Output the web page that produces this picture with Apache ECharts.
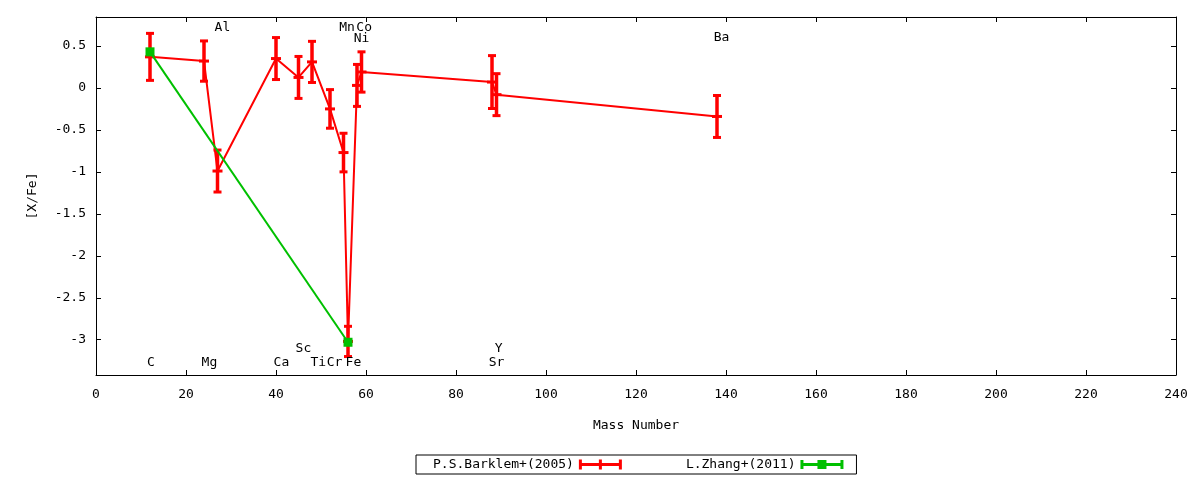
<!DOCTYPE html>
<html>
<head>
<meta charset="utf-8">
<title>[X/Fe] vs Mass Number</title>
<script src="https://cdn.jsdelivr.net/npm/echarts@6/dist/echarts.min.js"></script>
<style>
  html, body { margin: 0; padding: 0; background: #fff; }
  #chart { width: 1200px; height: 480px; }
</style>
</head>
<body>
<div id="chart"></div>
<script>
// --- data ---
const barklemMass  = [12, 24, 27, 40, 45, 48, 52, 55, 56, 58, 59, 88, 89, 138];
const barklemValue = [0.37, 0.32, -0.99, 0.35, 0.125, 0.31, -0.25, -0.77, -3.02, 0.03, 0.19, 0.07, -0.08, -0.34];
const barklemError = [0.28, 0.24, 0.25, 0.25, 0.25, 0.245, 0.23, 0.23, 0.18, 0.25, 0.24, 0.315, 0.25, 0.25];

const zhangMass  = [12, 56];
const zhangValue = [0.43, -3.03];

const elementNames = ['C', 'Mg', 'Al', 'Ca', 'Sc', 'Ti', 'Cr', 'Mn', 'Fe', 'Co', 'Ni', 'Sr', 'Y', 'Ba'];
const elementLabelX = [12.2, 25.2, 28.1, 41.2, 46.1, 49.4, 53.0, 55.8, 57.2, 59.6, 59, 89, 89.5, 139];
const elementLabelY = [-3.27, -3.27, 0.72, -3.27, -3.11, -3.27, -3.27, 0.72, -3.27, 0.72, 0.59, -3.27, -3.11, 0.6];

const yTicks = [-3, -2.5, -2, -1.5, -1, -0.5, 0, 0.5];

const FONT = 'DejaVu Sans Mono';
const RED = '#ff0000';
const GREEN = '#00c000';

const chart = echarts.init(document.getElementById('chart'));

const barklemLine = barklemMass.map((m, i) => [m, barklemValue[i]]);
const barklemBars = barklemMass.map((m, i) => [m, barklemValue[i], barklemError[i]]);
const zhangLine = zhangMass.map((m, i) => [m, zhangValue[i]]);
const labelData = elementNames.map((n, i) => [elementLabelX[i], elementLabelY[i], n]);

function errorBar(params, api) {
    const x = api.value(0), y = api.value(1), e = api.value(2);
    const top = api.coord([x, y + e]);
    const bot = api.coord([x, y - e]);
    const mid = api.coord([x, y]);
    const st = { stroke: RED, lineWidth: 3.5 };
    const capSt = { stroke: RED, lineWidth: 3 };
    return {
        type: 'group',
        children: [
            { type: 'line', shape: { x1: top[0], y1: top[1], x2: bot[0], y2: bot[1] }, style: st },
            { type: 'line', shape: { x1: top[0] - 4, y1: top[1], x2: top[0] + 4, y2: top[1] }, style: capSt },
            { type: 'line', shape: { x1: bot[0] - 4, y1: bot[1], x2: bot[0] + 4, y2: bot[1] }, style: capSt },
            { type: 'line', shape: { x1: mid[0] - 5, y1: mid[1], x2: mid[0] + 5, y2: mid[1] }, style: capSt }
        ]
    };
}

function textLabel(params, api) {
    const p = api.coord([api.value(0), api.value(1)]);
    return {
        type: 'text',
        x: p[0], y: p[1],
        style: {
            text: elementNames[params.dataIndex],
            align: 'center', verticalAlign: 'middle',
            fill: '#000', font: '13px "' + FONT + '"'
        }
    };
}

const redIcon = 'path://M0,0h3v10h-3Z M3,3.5h37v3h-37Z M40,0h3v10h-3Z M20,0h3v10h-3Z';
const greenIcon = 'path://M0,0.5h3v9h-3Z M3,3.5h37v3h-37Z M40,0.5h3v9h-3Z M17,0.5h9v9h-9Z';

const axisCommon = {
    axisLine: { show: true, onZero: false, lineStyle: { color: '#000', width: 1 } },
    axisTick: { show: true, inside: true, length: 5, lineStyle: { color: '#000' } },
    splitLine: { show: false }
};

const option = {
    animation: false,
    backgroundColor: '#fff',
    textStyle: { fontFamily: FONT },
    grid: { left: 96, right: 24, top: 17, bottom: 105, containLabel: false },
    legend: {
        left: 416, top: 455,
        orient: 'horizontal',
        align: 'right',
        padding: [3, 13, 3, 17],
        itemGap: 64,
        itemWidth: 43, itemHeight: 10,
        borderColor: '#000', borderWidth: 1, borderRadius: 0,
        textStyle: { fontFamily: FONT, fontSize: 13, color: '#000' },
        selectedMode: false,
        data: [
            { name: 'P.S.Barklem+(2005)', icon: redIcon, itemStyle: { color: RED } },
            { name: 'L.Zhang+(2011)', icon: greenIcon, itemStyle: { color: GREEN } }
        ]
    },
    xAxis: [
        Object.assign({
            type: 'value', min: 0, max: 240, interval: 20,
            name: 'Mass Number', nameLocation: 'middle', nameGap: 44,
            nameTextStyle: { fontFamily: FONT, fontSize: 13, color: '#000' },
            axisLabel: { color: '#000', fontFamily: FONT, fontSize: 13, margin: 13 }
        }, axisCommon),
        Object.assign({
            type: 'value', min: 0, max: 240, interval: 20, position: 'top',
            axisLabel: { show: false }
        }, axisCommon)
    ],
    yAxis: [
        Object.assign({
            type: 'value', min: -3.42, max: 0.845,
            name: '[X/Fe]', nameLocation: 'middle', nameGap: 57, nameRotate: 90,
            nameTextStyle: { fontFamily: FONT, fontSize: 13, color: '#000' },
            axisLabel: { color: '#000', fontFamily: FONT, fontSize: 13, margin: 10,
                customValues: yTicks, formatter: v => String(v) }
        }, axisCommon, {
            axisTick: { show: true, inside: true, length: 5, lineStyle: { color: '#000' }, customValues: yTicks }
        }),
        Object.assign({
            type: 'value', min: -3.42, max: 0.845, position: 'right',
            axisLabel: { show: false }
        }, axisCommon, {
            axisTick: { show: true, inside: true, length: 5, lineStyle: { color: '#000' }, customValues: yTicks }
        })
    ],
    series: [
        {
            name: 'P.S.Barklem+(2005)',
            type: 'line',
            data: barklemLine,
            showSymbol: false,
            symbol: 'none',
            lineStyle: { color: RED, width: 2 },
            itemStyle: { color: RED },
            z: 2
        },
        {
            name: 'P.S.Barklem+(2005)',
            type: 'custom',
            renderItem: errorBar,
            data: barklemBars,
            itemStyle: { color: RED },
            z: 3
        },
        {
            name: 'L.Zhang+(2011)',
            type: 'line',
            data: zhangLine,
            symbol: 'rect',
            symbolSize: 9,
            lineStyle: { color: GREEN, width: 2 },
            itemStyle: { color: GREEN },
            z: 4
        },
        {
            name: 'labels',
            type: 'custom',
            renderItem: textLabel,
            data: labelData,
            clip: false,
            silent: true,
            z: 5
        }
    ]
};

chart.setOption(option);
window.addEventListener('resize', () => chart.resize());
</script>
</body>
</html>
